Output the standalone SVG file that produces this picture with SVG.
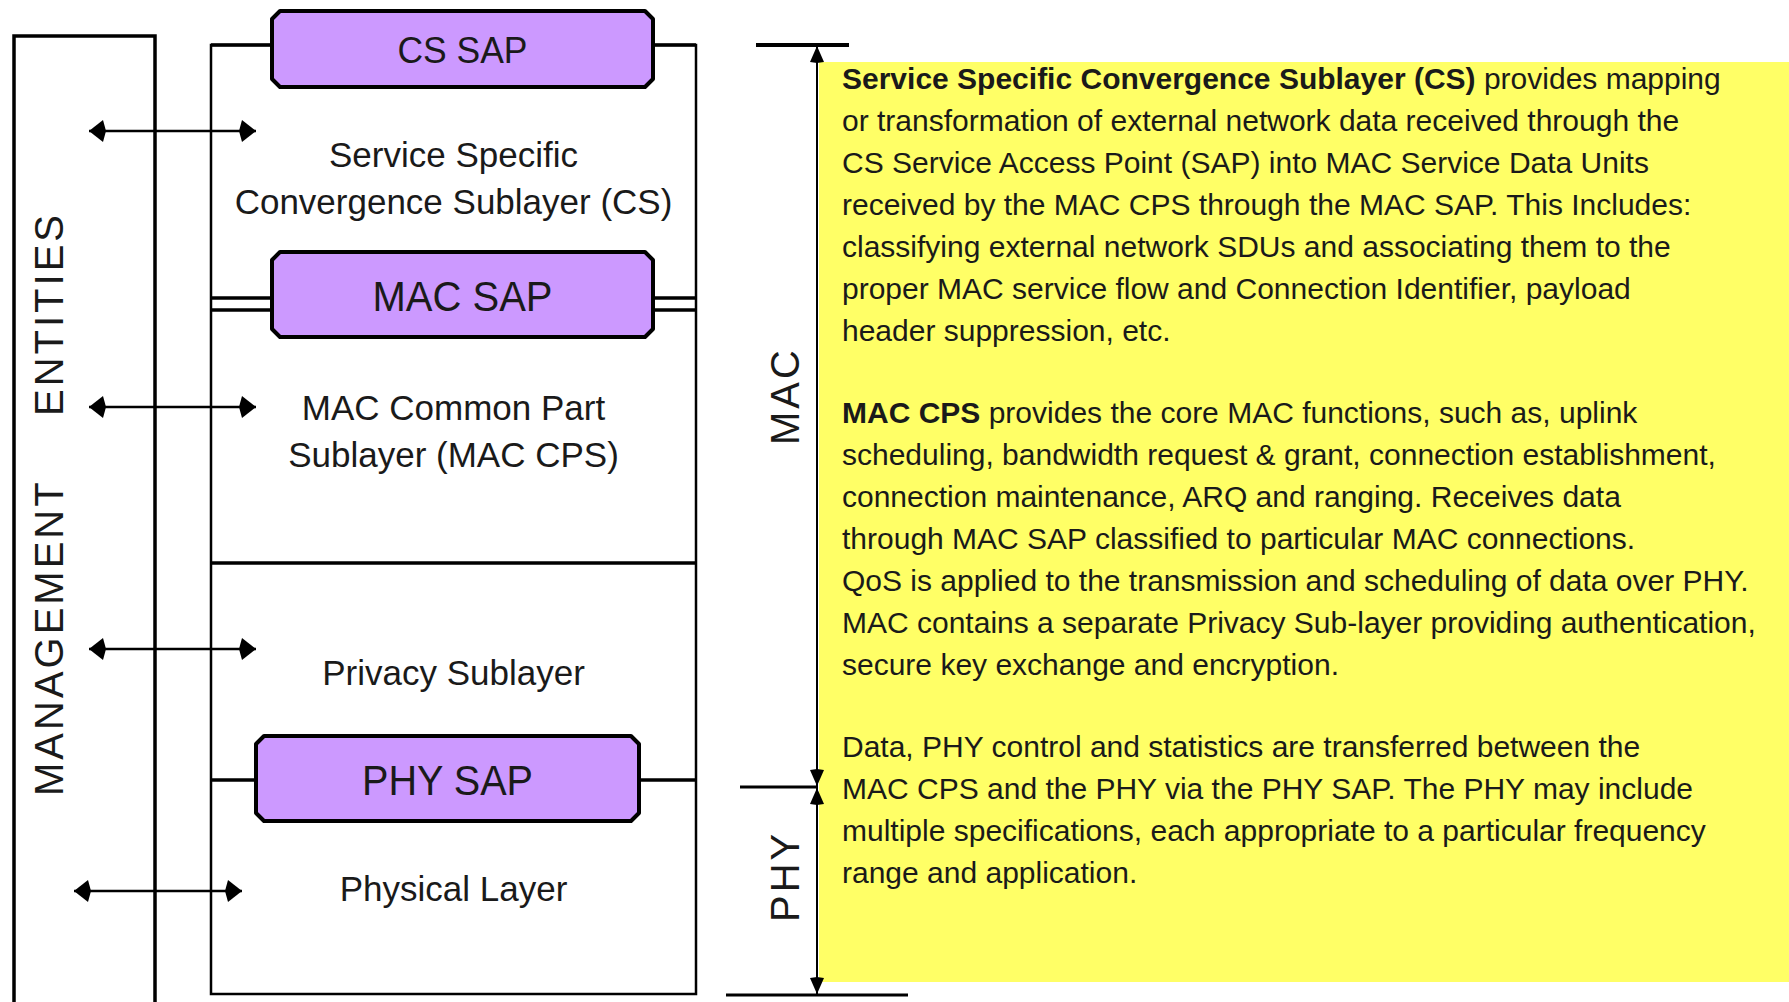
<svg xmlns="http://www.w3.org/2000/svg" width="1789" height="1002" viewBox="0 0 1789 1002">
<style>
.t{font-family:"Liberation Sans",Arial,sans-serif;fill:#1a1a1a}
.lbl{font-size:35px;text-anchor:middle}
.sap{font-size:42px;text-anchor:middle}
.vert{font-size:40px;letter-spacing:3px}
.body{font-size:30px}
.ln{stroke:#000;fill:none}
.sapbox{fill:#CC99FF;stroke:#000;stroke-width:4;stroke-linejoin:round}
</style>
<defs>
<marker id="ah" viewBox="0 0 17 22" refX="17" refY="11" markerWidth="17" markerHeight="22" markerUnits="userSpaceOnUse" orient="auto-start-reverse">
<path d="M17,11 L3,0 L0,11 L3,22 Z" fill="#000"/>
</marker>
<marker id="dh" viewBox="0 0 17 14" refX="17" refY="7" markerWidth="17" markerHeight="14" markerUnits="userSpaceOnUse" orient="auto-start-reverse">
<path d="M17,7 L1,0 L0,7 L1,14 Z" fill="#000"/>
</marker>
</defs>
<rect x="0" y="0" width="1789" height="1002" fill="#fff"/>

<g id="management-entities">
<path class="ln" d="M14,1010 V36 H155 V1010" stroke-width="3.5"/>
<text class="t vert" transform="translate(63,796) rotate(-90)"><tspan x="0" y="0">MANAGEMENT</tspan><tspan x="380" y="0">ENTITIES</tspan></text>
</g>

<g id="main-stack">
<rect x="211" y="45" width="485" height="949" class="ln" stroke-width="2.5"/>
<line class="ln" x1="211" y1="45" x2="696" y2="45" stroke-width="3.5"/>
<line class="ln" x1="211" y1="298" x2="696" y2="298" stroke-width="3.5"/>
<line class="ln" x1="211" y1="310" x2="696" y2="310" stroke-width="3.5"/>
<line class="ln" x1="211" y1="563" x2="696" y2="563" stroke-width="3.5"/>
<line class="ln" x1="211" y1="780" x2="696" y2="780" stroke-width="3.5"/>
</g>

<g id="cs-sap">
<path class="sapbox" d="M280,11 H645 L653,19 V79 L645,87 H280 L272,79 V19 Z"/>
<text class="t sap" x="462.5" y="63" textLength="130" lengthAdjust="spacingAndGlyphs" style="font-size:37px">CS SAP</text>
</g>

<g id="cs-sublayer">
<text class="t lbl" x="453.5" y="167">Service Specific</text>
<text class="t lbl" x="453.5" y="214">Convergence Sublayer (CS)</text>
</g>

<g id="mac-sap">
<path class="sapbox" d="M280,252 H645 L653,260 V329 L645,337 H280 L272,329 V260 Z"/>
<text class="t sap" x="462.5" y="311" textLength="180" lengthAdjust="spacingAndGlyphs">MAC SAP</text>
</g>

<g id="mac-cps">
<text class="t lbl" x="453.5" y="420">MAC Common Part</text>
<text class="t lbl" x="453.5" y="467">Sublayer (MAC CPS)</text>
</g>

<g id="privacy-sublayer">
<text class="t lbl" x="453.5" y="685">Privacy Sublayer</text>
</g>

<g id="phy-sap">
<path class="sapbox" d="M264,736 H631 L639,744 V813 L631,821 H264 L256,813 V744 Z"/>
<text class="t sap" x="447.5" y="795" textLength="171" lengthAdjust="spacingAndGlyphs">PHY SAP</text>
</g>

<g id="physical-layer">
<text class="t lbl" x="453.5" y="901">Physical Layer</text>
</g>

<g id="description">
<rect x="819" y="62" width="970" height="920" fill="#FFFF66"/>
<text class="t body" x="842" y="89"><tspan font-weight="bold">Service Specific Convergence Sublayer (CS)</tspan> provides mapping</text>
<text class="t body" x="842" y="131">or transformation of external network data received through the</text>
<text class="t body" x="842" y="173">CS Service Access Point (SAP) into MAC Service Data Units</text>
<text class="t body" x="842" y="215">received by the MAC CPS through the MAC SAP. This Includes:</text>
<text class="t body" x="842" y="257">classifying external network SDUs and associating them to the</text>
<text class="t body" x="842" y="299">proper MAC service flow and Connection Identifier, payload</text>
<text class="t body" x="842" y="341">header suppression, etc.</text>
<text class="t body" x="842" y="423"><tspan font-weight="bold">MAC CPS</tspan> provides the core MAC functions, such as, uplink</text>
<text class="t body" x="842" y="465">scheduling, bandwidth request &amp; grant, connection establishment,</text>
<text class="t body" x="842" y="507">connection maintenance, ARQ and ranging. Receives data</text>
<text class="t body" x="842" y="549">through MAC SAP classified to particular MAC connections.</text>
<text class="t body" x="842" y="591">QoS is applied to the transmission and scheduling of data over PHY.</text>
<text class="t body" x="842" y="633">MAC contains a separate Privacy Sub-layer providing authentication,</text>
<text class="t body" x="842" y="675">secure key exchange and encryption.</text>
<text class="t body" x="842" y="757">Data, PHY control and statistics are transferred between the</text>
<text class="t body" x="842" y="799">MAC CPS and the PHY via the PHY SAP. The PHY may include</text>
<text class="t body" x="842" y="841">multiple specifications, each appropriate to a particular frequency</text>
<text class="t body" x="842" y="883">range and application.</text>
</g>

<g id="scope-labels">
<text class="t vert" transform="translate(799,445) rotate(-90)">MAC</text>
<text class="t vert" transform="translate(799,922) rotate(-90)">PHY</text>
</g>

<g id="connectors">
<line class="ln" x1="89" y1="131" x2="256" y2="131" stroke-width="2.5" marker-start="url(#ah)" marker-end="url(#ah)"/>
<line class="ln" x1="89" y1="407" x2="256" y2="407" stroke-width="2.5" marker-start="url(#ah)" marker-end="url(#ah)"/>
<line class="ln" x1="89" y1="649" x2="256" y2="649" stroke-width="2.5" marker-start="url(#ah)" marker-end="url(#ah)"/>
<line class="ln" x1="74" y1="891" x2="242" y2="891" stroke-width="2.5" marker-start="url(#ah)" marker-end="url(#ah)"/>
<line class="ln" x1="756" y1="45" x2="849" y2="45" stroke-width="4"/>
<line class="ln" x1="740" y1="787" x2="818" y2="787" stroke-width="3"/>
<line class="ln" x1="726" y1="995" x2="908" y2="995" stroke-width="3"/>
<line class="ln" x1="817" y1="46" x2="817" y2="786" stroke-width="2" marker-start="url(#dh)" marker-end="url(#dh)"/>
<line class="ln" x1="817" y1="788" x2="817" y2="994" stroke-width="2" marker-start="url(#dh)" marker-end="url(#dh)"/>
</g>
</svg>
